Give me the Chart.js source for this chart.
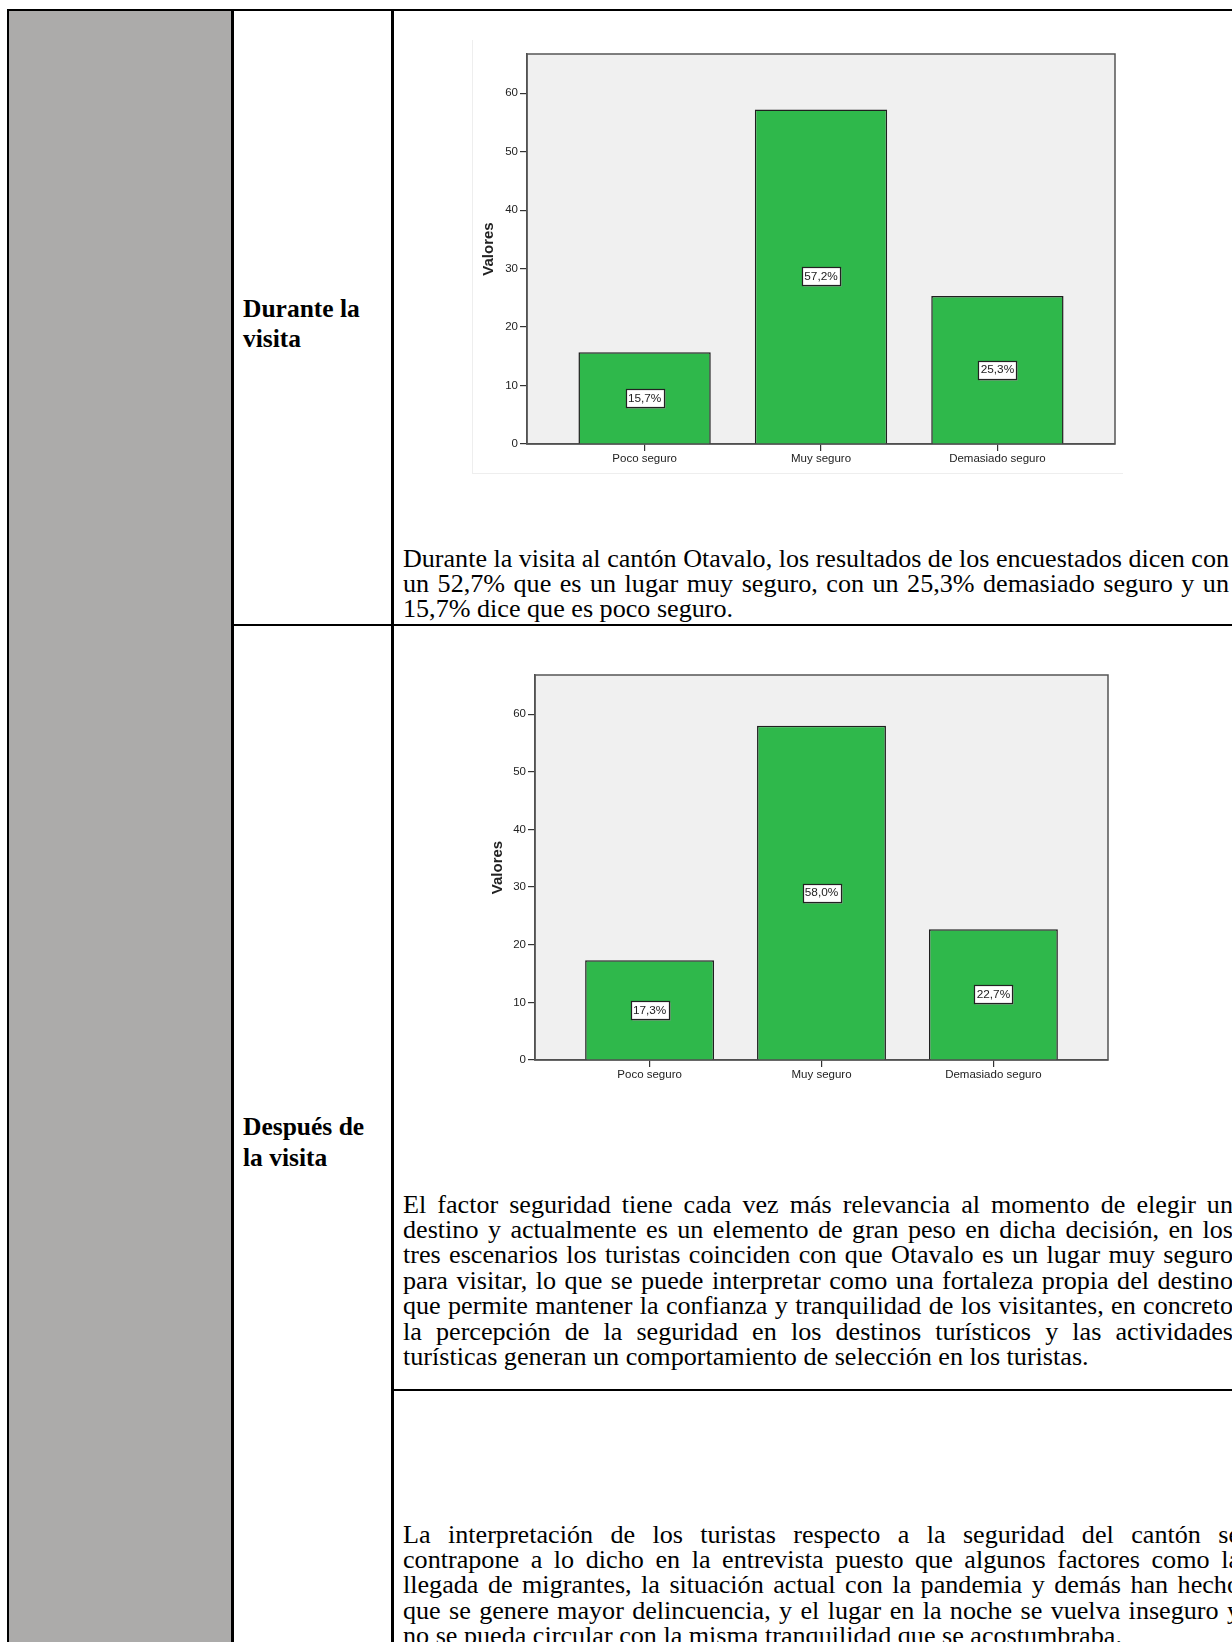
<!DOCTYPE html>
<html>
<head>
<meta charset="utf-8">
<title>Seguridad percibida - Otavalo</title>
<script src="https://cdn.jsdelivr.net/npm/chart.js@4.4.0/dist/chart.umd.min.js"></script>
<style>
  html, body { margin: 0; padding: 0; background: #fff; }
  body { width: 1232px; height: 1642px; overflow: hidden; position: relative; }
  .ln { position: absolute; background: #000; }
  .gray { position: absolute; background: #acabaa; }
  .title { position: absolute; font-family: "Liberation Serif", "Times New Roman", serif; font-weight: bold;
           font-size: 25.5px; line-height: 30px; white-space: nowrap; color: #000; }
  .txt { position: absolute; font-family: "Liberation Serif", "Times New Roman", serif; font-size: 25px;
         line-height: 26px; height: 26px; white-space: pre; color: #000; transform-origin: 0 0; }
  .chartbox { position: absolute; background: #fff; }
  .chartbox canvas { display: block; }
</style>
</head>
<body>

<!-- table frame -->
<div class="gray" style="left:9px;top:11px;width:222px;height:1640px"></div>
<div class="ln" style="left:7px;top:9px;width:1232px;height:2px"></div>
<div class="ln" style="left:7px;top:9px;width:2px;height:1640px"></div>
<div class="ln" style="left:231px;top:9px;width:2.5px;height:1640px"></div>
<div class="ln" style="left:391px;top:9px;width:2.5px;height:1640px"></div>
<div class="ln" style="left:231px;top:624px;width:1010px;height:2px"></div>
<div class="ln" style="left:391px;top:1389px;width:850px;height:2px"></div>

<div class="title" style="left:243px;top:294px">Durante la</div>
<div class="title" style="left:243px;top:324px">visita</div>
<div class="title" style="left:243px;top:1112px">Después de</div>
<div class="title" style="left:243px;top:1143px">la visita</div>

<div class="chartbox" style="left:472px;top:40px;border-left:1px solid #eeeeee;border-bottom:1px solid #eeeeee">
  <canvas id="chartDurante" width="650" height="433"></canvas>
</div>
<div class="chartbox" style="left:474px;top:655px">
  <canvas id="chartDespues" width="646" height="435"></canvas>
</div>

<script>
var categories = ['Poco seguro', 'Muy seguro', 'Demasiado seguro'];
var categoryPos = [0, 1, 2];
var duranteValues = [15.7, 57.2, 25.3];
var despuesValues = [17.3, 58.0, 22.7];
var yTicks = [0, 10, 20, 30, 40, 50, 60];
var yMaxDurante = 66.7;
var yMaxDespues = 66.8;

var paragraphs = [
  { left: 403, right: 1229, base: 567, gap: 25.1, lines: [
    'Durante la visita al cantón Otavalo, los resultados de los encuestados dicen con',
    'un 52,7% que es un lugar muy seguro, con un 25,3% demasiado seguro y un',
    '15,7% dice que es poco seguro.'
  ] },
  { left: 403, right: 1233, base: 1213, gap: 25.4, lines: [
    'El factor seguridad tiene cada vez más relevancia al momento de elegir un',
    'destino y actualmente es un elemento de gran peso en dicha decisión, en los',
    'tres escenarios los turistas coinciden con que Otavalo es un lugar muy seguro',
    'para visitar, lo que se puede interpretar como una fortaleza propia del destino',
    'que permite mantener la confianza y tranquilidad de los visitantes, en concreto',
    'la percepción de la seguridad en los destinos turísticos y las actividades',
    'turísticas generan un comportamiento de selección en los turistas.'
  ] },
  { left: 403, right: 1240, base: 1543, gap: 25.4, lines: [
    'La interpretación de los turistas respecto a la seguridad del cantón se',
    'contrapone a lo dicho en la entrevista puesto que algunos factores como la',
    'llegada de migrantes, la situación actual con la pandemia y demás han hecho',
    'que se genere mayor delincuencia, y el lugar en la noche se vuelva inseguro y',
    'no se pueda circular con la misma tranquilidad que se acostumbraba.'
  ] }
];

// justified lines, slightly widened like the scanned page
var STRETCH = 1.045;
paragraphs.forEach(function (p) {
  p.lines.forEach(function (t, i) {
    var d = document.createElement('div');
    d.className = 'txt';
    d.textContent = t;
    d.style.left = p.left + 'px';
    d.style.top = (p.base + i * p.gap - 21.4) + 'px';
    document.body.appendChild(d);
    var nat = d.getBoundingClientRect().width;
    var W = p.right - p.left, sx = STRETCH;
    var last = i === p.lines.length - 1;
    if (nat * sx > W) {
      sx = W / nat;
    } else if (!last) {
      var n = (t.match(/ /g) || []).length;
      d.style.wordSpacing = ((W / sx - nat) / n) + 'px';
    }
    d.style.transform = 'scaleX(' + sx + ')';
  });
});

Chart.defaults.font.family = '"Liberation Sans", Arial, sans-serif';
Chart.defaults.color = '#222';

var plotFrame = {
  id: 'plotFrame',
  beforeDraw: function (chart) {
    var a = chart.chartArea, c = chart.ctx;
    c.save();
    c.fillStyle = '#f0f0f0';
    c.fillRect(a.left, a.top, a.right - a.left, a.bottom - a.top);
    c.restore();
  },
  beforeDatasetsDraw: function (chart) {
    var a = chart.chartArea, c = chart.ctx;
    c.save();
    c.strokeStyle = '#555';
    c.lineWidth = 1.5;
    c.strokeRect(a.left, a.top, a.right - a.left, a.bottom - a.top);
    c.restore();
  }
};

var valueBoxes = {
  id: 'valueBoxes',
  afterDatasetsDraw: function (chart) {
    var c = chart.ctx, meta = chart.getDatasetMeta(0), data = chart.data.datasets[0].data;
    c.save();
    c.font = '11.8px "Liberation Sans", Arial, sans-serif';
    meta.data.forEach(function (bar, i) {
      var txt = data[i].y.toFixed(1).replace('.', ',') + '%';
      var w = Math.round(c.measureText(txt).width + 5), h = 18;
      var cx = bar.x, cy = (bar.y + bar.base) / 2;
      var x0 = Math.round(cx - w / 2) + 0.5, y0 = Math.round(cy - h / 2) + 0.5;
      c.fillStyle = '#9a9a9a';
      c.fillRect(x0 + 1, y0 + 1, w, h);
      c.fillStyle = '#fff';
      c.fillRect(x0, y0, w, h);
      c.strokeStyle = '#222';
      c.lineWidth = 1.2;
      c.strokeRect(x0, y0, w, h);
      c.fillStyle = '#222';
      c.textAlign = 'center';
      c.textBaseline = 'middle';
      c.fillText(txt, cx, cy + 0.5);
    });
    c.restore();
  }
};

function buildChart(id, values, yMax, lay) {
  var axisGrid = { display: true, drawOnChartArea: false, drawTicks: true, tickLength: 7,
                   offset: false, color: '#333', lineWidth: 1.2 };
  var axisBorder = { display: true, color: '#444', width: 1.5 };
  return new Chart(document.getElementById(id), {
    type: 'bar',
    data: {
      datasets: [{
        data: values.map(function (v, i) { return { x: categoryPos[i], y: v }; }),
        backgroundColor: '#2fb84b',
        borderColor: '#1f1f1f',
        borderWidth: 1.5,
        categoryPercentage: 1,
        barPercentage: 0.75
      }]
    },
    options: {
      responsive: false,
      animation: false,
      devicePixelRatio: 1,
      events: [],
      layout: { padding: { left: 0, top: lay.top, right: lay.right, bottom: lay.bottom } },
      plugins: { legend: { display: false }, tooltip: { enabled: false } },
      scales: {
        x: {
          type: 'linear', min: -2 / 3, max: 8 / 3, bounds: 'data', offset: false,
          afterBuildTicks: function (s) { s.ticks = categoryPos.map(function (v) { return { value: v }; }); },
          afterFit: function (s) { s.height = lay.xh; },
          grid: axisGrid,
          border: axisBorder,
          ticks: {
            autoSkip: false, maxRotation: 0, padding: 1, color: '#222',
            font: { size: 11.5 },
            callback: function (v) { return categories[categoryPos.indexOf(v)]; }
          }
        },
        y: {
          min: 0, max: yMax, bounds: 'data',
          afterBuildTicks: function (s) { s.ticks = yTicks.map(function (v) { return { value: v }; }); },
          afterFit: function (s) { s.width = lay.yw; },
          grid: axisGrid,
          border: axisBorder,
          ticks: { padding: 2, color: '#222', font: { size: 11.5 },
                   callback: function (v) { return String(v); } },
          title: { display: true, text: 'Valores', color: '#222',
                   font: { size: 15, weight: 'bold' }, padding: { top: lay.tp, bottom: 0 } }
        }
      }
    },
    plugins: [plotFrame, valueBoxes]
  });
}

buildChart('chartDurante', duranteValues, yMaxDurante, { top: 14, right: 8, bottom: 7, xh: 22, yw: 54, tp: 7 });
buildChart('chartDespues', despuesValues, yMaxDespues, { top: 20, right: 12, bottom: 8, xh: 22, yw: 61, tp: 15 });
</script>
</body>
</html>
